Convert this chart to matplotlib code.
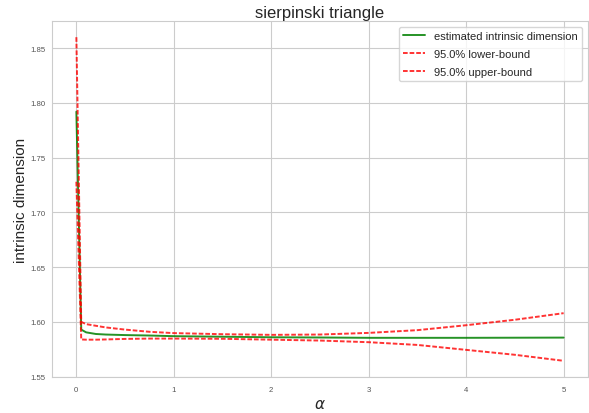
import numpy as np
import matplotlib
matplotlib.use('Agg')
import matplotlib.pyplot as plt
import seaborn as sns

# alpha grid and the estimated dimension with its 95% bounds
alphas = [0.0, 0.05, 0.1, 0.2, 0.3, 0.5, 0.75, 1.0, 1.5, 2.0, 2.5, 3.0, 3.5, 4.0, 4.5, 5.0]
est_dim = [1.792, 1.593, 1.5905, 1.589, 1.5885, 1.588, 1.5876, 1.587, 1.5865, 1.586,
           1.5858, 1.5855, 1.5855, 1.5855, 1.5856, 1.5857]
lower_bound = [1.728, 1.584, 1.5838, 1.5838, 1.584, 1.5845, 1.5848, 1.5848, 1.5846, 1.5838,
               1.583, 1.5815, 1.579, 1.5745, 1.570, 1.5645]
upper_bound = [1.860, 1.600, 1.598, 1.5965, 1.595, 1.593, 1.591, 1.5898, 1.5888, 1.5882,
               1.5885, 1.590, 1.5925, 1.597, 1.602, 1.608]

sns.set_style('whitegrid')
plt.rcParams['font.family'] = ['Liberation Sans', 'DejaVu Sans']

fig = plt.figure(figsize=(5.89, 4.14), dpi=100)
ax = fig.add_axes([52 / 589, 36 / 414, 536 / 589, 356 / 414])

dash = (0, (2.4, 1.0))
ax.plot(alphas, est_dim, color='green', linewidth=1.4, alpha=0.85,
        label='estimated intrinsic dimension')
ax.plot(alphas, lower_bound, color='red', linestyle=dash, alpha=0.8, linewidth=1.4,
        label='95.0% lower-bound')
ax.plot(alphas, upper_bound, color='red', linestyle=dash, alpha=0.8, linewidth=1.4,
        label='95.0% upper-bound')

ax.set_title('sierpinski triangle', fontsize=12, pad=3)
ax.set_xlabel(r'$\alpha$', fontsize=11, labelpad=3)
ax.set_ylabel('intrinsic dimension', fontsize=11, labelpad=2)
ax.tick_params(axis='both', labelsize=5.6, colors='#555555', length=0, pad=4.5)
ax.tick_params(axis='x', pad=6.5)
ax.set_yticks([1.55, 1.60, 1.65, 1.70, 1.75, 1.80, 1.85])
ax.legend(loc='upper right', fontsize=8, labelspacing=0.72)

fig.savefig('out.png', dpi=100)
